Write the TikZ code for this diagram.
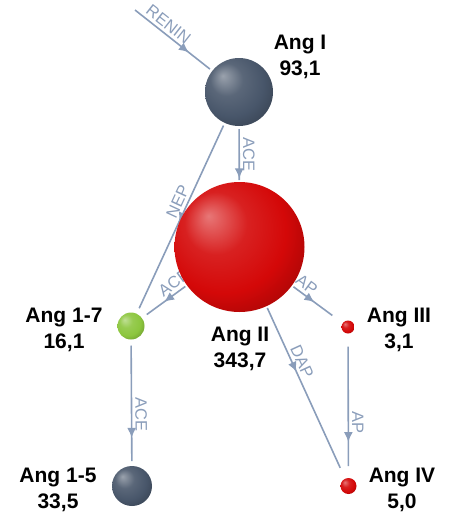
\documentclass[tikz,border=0pt]{standalone}
\usepackage{fontspec}
\setmainfont{Liberation Sans}
\usetikzlibrary{arrows.meta,decorations.markings,backgrounds}

\definecolor{linkc}{RGB}{138,157,186}
\definecolor{slate}{RGB}{72,86,106}
\definecolor{angred}{RGB}{212,8,8}
\definecolor{lime}{RGB}{140,198,62}

\pgfdeclareradialshading[sphc]{sphere}{\pgfpoint{-12bp}{12bp}}{%
  color(0bp)=(sphc!55!white); color(12bp)=(sphc!90!white); color(24bp)=(sphc);
  color(36bp)=(sphc!75!black); color(50bp)=(sphc!30!black)}

\tikzset{
  sph/.style 2 args={circle, inner sep=0pt, minimum size=#2,
    /utils/exec={\colorlet{sphc}{#1}}, shading=sphere},
  conn/.style={draw=linkc, line width=1.6pt},
  midtip/.style={postaction={decorate}, decoration={markings,
    mark=at position #1 with {\arrow{Latex[length=10pt,width=9pt]}}}},
  elabel/.style={sloped, above, inner sep=3pt, text=linkc,
    font=\fontsize{16.5}{19}\selectfont},
  angl/.style={align=center, font=\bfseries\fontsize{21}{26}\selectfont}
}

\begin{document}
\begin{tikzpicture}[x=1pt, y=-1pt]
\useasboundingbox (0,0) rectangle (449,517);

% spheres
\node[sph={slate}{68pt}, outer sep=3pt] (angI) at (239,92) {};
\node[sph={angred}{130pt}, outer sep=2pt] (angII) at (239.5,247) {};
\node[sph={lime}{27pt}, outer sep=6pt] (ang17) at (131,326) {};
\node[sph={slate}{40pt}, outer sep=5pt] (ang15) at (132,486) {};
\node[sph={angred}{13pt}, outer sep=13pt] (angIII) at (348,327) {};
\node[sph={angred}{16pt}, outer sep=12pt] (angIV) at (348.5,486) {};

% names and values
\node[angl] (lI) at (300,57) {Ang I\\93,1};
\node[angl] (lII) at (240,349) {Ang II\\343,7};
\node[angl] (l17) at (64,330) {Ang 1-7\\16,1};
\node[angl] (l15) at (58,490) {Ang 1-5\\33,5};
\node[angl] (lIII) at (399,330) {Ang III\\3,1};
\node[angl] (lIV) at (402,490) {Ang IV\\5,0};

% enzymes
\begin{scope}[on background layer]
\coordinate (renin) at (135,10);
\draw[conn, midtip=0.72] (renin) -- node[elabel, pos=0.37] {RENIN} (angI);
\draw[conn, midtip=0.97] (angI) -- node[elabel, pos=0.5] {ACE} (angII);
\draw[conn, midtip=0.53] (angI) -- node[elabel, pos=0.44] {NEP} (ang17);
\draw[conn, midtip=0.55] (angII) -- node[elabel, pos=0.15] {ACE} (ang17);
\draw[conn, midtip=0.54] (angII) -- node[elabel, pos=0.2] {AP} (angIII);
\draw[conn, midtip=0.4] (angII) -- node[elabel, pos=0.36] {DAP} (angIV);
\draw[conn, midtip=0.8] (ang17) -- node[elabel, pos=0.6] {ACE} (ang15);
\draw[conn, midtip=0.8] (angIII) -- node[elabel, pos=0.64] {AP} (angIV);
\end{scope}
\end{tikzpicture}
\end{document}
